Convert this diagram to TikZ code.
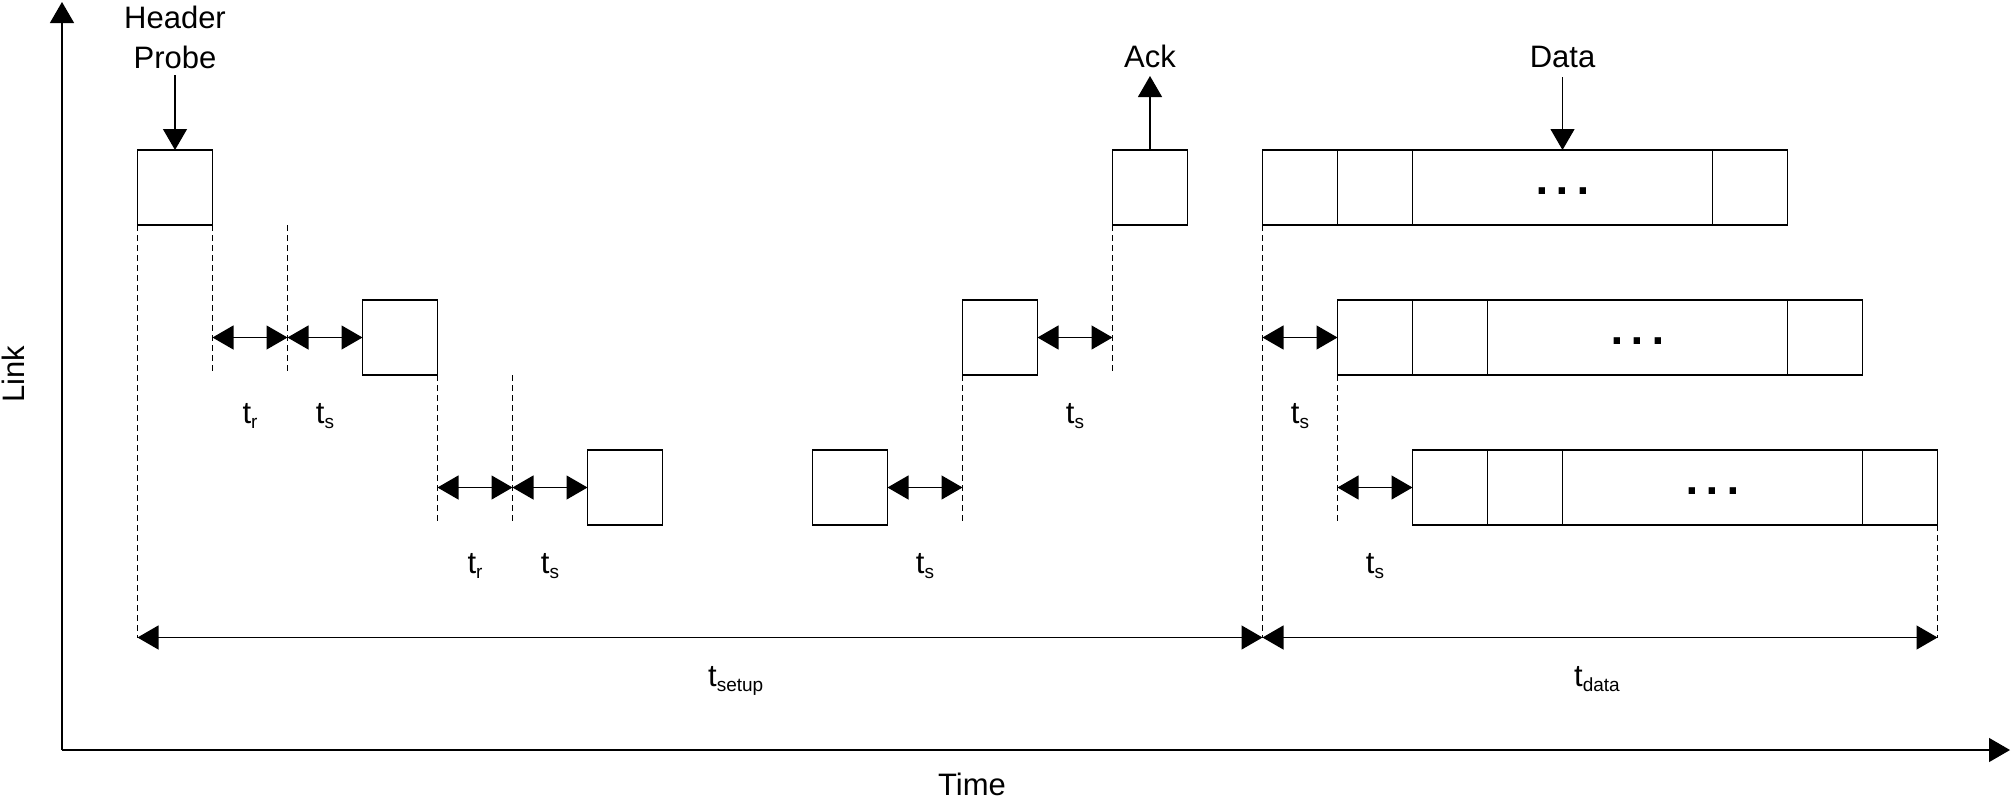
\documentclass[tikz,border=0pt]{standalone}
\usepackage{fontspec}
\setmainfont{Liberation Sans}
\newfontfamily\dotfont{DejaVu Sans}
\usetikzlibrary{arrows.meta}
\newcommand\tlab[1]{t\raisebox{-5pt}{\fontsize{19}{19}\selectfont #1}}
\newcommand\pdots{.\hspace{6.9pt}.\hspace{6.9pt}.}
\begin{document}
\begin{tikzpicture}[x=1pt,y=-1pt,
  every node/.style={font=\fontsize{31}{37}\selectfont, inner sep=0pt},
  pkt/.style={draw, line width=1.2pt, minimum width=75pt, minimum height=75pt, anchor=north west, inner sep=0pt, outer sep=0pt},
  tip/.style={line width=1.2pt, -{Triangle[length=21pt,width=24pt]}},
  dtip/.style={line width=1.2pt, {Triangle[length=21pt,width=24pt]}-{Triangle[length=21pt,width=24pt]}},
  guide/.style={dash pattern=on 5.5pt off 4.5pt, line width=1pt},
  lbl/.style={anchor=base},
  dots/.style={anchor=base, font=\dotfont\bfseries\fontsize{36}{36}\selectfont},
  ]
\useasboundingbox (0,0) rectangle (2012,798);

% axes
\coordinate (O) at (62,750);
\coordinate (Ytop) at (62,2);
\coordinate (Xend) at (2010,750);
\draw[tip] (O) -- (Ytop);
\draw[tip] (O) -- (Xend);
\node[lbl] (time) at (972,795) {Time};
\node[lbl, rotate=90] (link) at (24,374) {Link};

% packets
\node[pkt] (b1) at (137.5,150) {};
\node[pkt] (b2) at (362.5,300) {};
\node[pkt] (b3) at (587.5,450) {};
\node[pkt] (b4) at (812.5,450) {};
\node[pkt] (b5) at (962.5,300) {};
\node[pkt] (b6) at (1112.5,150) {};

% data rows
\node[pkt] (d1a) at (1262.5,150) {};
\node[pkt] (d1b) at (d1a.north east) {};
\node[pkt, minimum width=300pt] (d1c) at (d1b.north east) {};
\node[pkt] (d1d) at (d1c.north east) {};
\node[dots] (e1) at (1562.5,194.5) {\pdots};

\node[pkt] (d2a) at (1337.5,300) {};
\node[pkt] (d2b) at (d2a.north east) {};
\node[pkt, minimum width=300pt] (d2c) at (d2b.north east) {};
\node[pkt] (d2d) at (d2c.north east) {};
\node[dots] (e2) at (1637.5,344.5) {\pdots};

\node[pkt] (d3a) at (1412.5,450) {};
\node[pkt] (d3b) at (d3a.north east) {};
\node[pkt, minimum width=300pt] (d3c) at (d3b.north east) {};
\node[pkt] (d3d) at (d3c.north east) {};
\node[dots] (e3) at (1712.5,494.5) {\pdots};

% top labels and arrows
\node[lbl] (hdr) at (175,28) {Header};
\node[lbl] (prb) at (175,68) {Probe};
\coordinate (hp) at (175,75);
\draw[tip] (hp) -- (b1.north);
\node[lbl] (ack) at (1150,67) {Ack};
\coordinate (ap) at (1150,76);
\draw[tip] (b6.north) -- (ap);
\node[lbl] (data) at (1562.5,67) {Data};
\coordinate (dp) at (1562.5,77);
\draw[tip] (dp) -- (d1c.north);

% guide coordinates
\coordinate (sL) at (137.5,637.5);
\coordinate (sM) at (1262.5,637.5);
\coordinate (sR) at (1937.5,637.5);
\coordinate (g1t) at (287.5,225);
\coordinate (g1b) at (287.5,375);
\coordinate (g2t) at (512.5,375);
\coordinate (g2b) at (512.5,525);
\coordinate (m1) at (287.5,337.5);
\coordinate (m2) at (512.5,487.5);

% dashed guides
\draw[guide] (b1.south west) -- (sL);
\draw[guide] (b1.south east) -- ++(0,150) coordinate (g0b);
\draw[guide] (g1t) -- (g1b);
\draw[guide] (b2.south east) -- ++(0,150);
\draw[guide] (g2t) -- (g2b);
\draw[guide] (b5.south west) -- ++(0,150) coordinate (g5b);
\draw[guide] (b6.south west) -- ++(0,150) coordinate (g6b);
\draw[guide] (d1a.south west) -- (sM);
\draw[guide] (d2a.south west) -- ++(0,150);
\draw[guide] (d3d.south east) -- (sR);

% interval arrows
\draw[dtip] (b1.east |- m1) -- (m1);
\draw[dtip] (m1) -- (b2.west);
\draw[dtip] (b2.east |- m2) -- (m2);
\draw[dtip] (m2) -- (b3.west);
\draw[dtip] (b4.east) -- (b5.west |- b4.east);
\draw[dtip] (b5.east) -- (b6.west |- b5.east);
\draw[dtip] (d1a.west |- d2a.west) -- (d2a.west);
\draw[dtip] (d2a.west |- d3a.west) -- (d3a.west);
\draw[dtip] (sL) -- (sM);
\draw[dtip] (sM) -- (sR);

% interval labels
\node[lbl] (l1) at (250,423) {\tlab{r}};
\node[lbl] (l2) at (325,423) {\tlab{s}};
\node[lbl] (l3) at (475,573) {\tlab{r}};
\node[lbl] (l4) at (550,573) {\tlab{s}};
\node[lbl] (l5) at (925,573) {\tlab{s}};
\node[lbl] (l6) at (1075,423) {\tlab{s}};
\node[lbl] (l7) at (1300,423) {\tlab{s}};
\node[lbl] (l8) at (1375,573) {\tlab{s}};
\node[anchor=base west] (lsetup) at (708,686) {\tlab{setup}};
\node[anchor=base west] (ldata) at (1574,686) {\tlab{data}};
\end{tikzpicture}
\end{document}
